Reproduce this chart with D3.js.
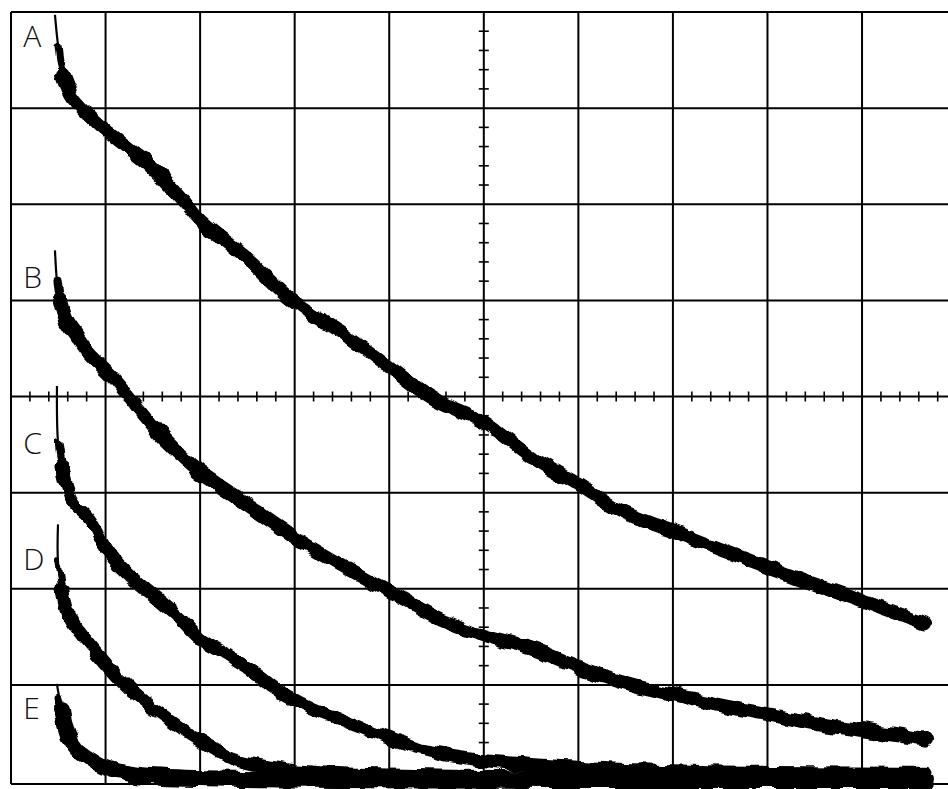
<!DOCTYPE html>
<html>
<head>
<meta charset="utf-8">
<script src="https://cdn.jsdelivr.net/npm/d3@7"></script>
<style>
  html, body { margin: 0; padding: 0; background: #fff; }
  svg { display: block; }
  .label { font-family: "Open Sans", "DejaVu Sans", sans-serif; font-weight: 300; font-size: 30px; fill: #111; }
</style>
</head>
<body>
<div id="chart"></div>
<script>
/* CONSTANTS */
const width = 948, height = 789;

// trace readings, in screen divisions (x from left edge, y up from bottom graticule line)
// first point of each trace is the top of the thin trigger spike
const timeA = [0.465, 0.497, 0.550, 0.645, 0.783, 1.015, 1.470, 1.819, 1.999, 2.527, 2.982, 3.479, 4.008, 4.463, 4.992, 5.489, 5.986, 6.440, 7.001, 7.498, 7.995, 8.481, 9.010, 9.666];
const voltA = [7.97, 7.66, 7.34, 7.13, 6.97, 6.76, 6.40, 6.04, 5.83, 5.41, 4.99, 4.68, 4.30, 3.98, 3.74, 3.38, 3.09, 2.81, 2.60, 2.41, 2.23, 2.05, 1.87, 1.64];

const timeB = [0.465, 0.486, 0.518, 0.582, 0.677, 0.835, 1.047, 1.227, 1.607, 1.967, 2.178, 2.527, 3.003, 3.479, 4.008, 4.537, 4.992, 5.489, 6.017, 6.546, 7.001, 7.498, 8.027, 8.555, 9.000, 9.666];
const voltB = [5.52, 5.20, 4.99, 4.79, 4.65, 4.44, 4.23, 4.02, 3.57, 3.24, 3.09, 2.86, 2.54, 2.26, 1.97, 1.68, 1.52, 1.38, 1.17, 1.00, 0.90, 0.79, 0.69, 0.59, 0.53, 0.43];

const timeC = [0.486, 0.497, 0.539, 0.656, 0.835, 1.047, 1.290, 1.544, 1.787, 1.999, 2.284, 2.602, 2.845, 3.194, 3.553, 3.902, 4.251, 4.611, 5.140, 6.017, 7.286, 9.666];
const voltC = [4.11, 3.53, 3.27, 2.91, 2.73, 2.36, 2.11, 1.90, 1.69, 1.48, 1.31, 1.11, 0.93, 0.75, 0.62, 0.48, 0.35, 0.27, 0.20, 0.14, 0.10, 0.08];

const timeD = [0.497, 0.497, 0.539, 0.592, 0.698, 0.835, 1.015, 1.153, 1.364, 1.607, 1.861, 2.073, 2.348, 2.707, 3.194, 4.643, 9.666];
const voltD = [2.67, 2.28, 2.00, 1.76, 1.58, 1.42, 1.21, 1.06, 0.86, 0.69, 0.51, 0.38, 0.23, 0.15, 0.09, 0.05, 0.03];

const timeE = [0.486, 0.508, 0.539, 0.603, 0.698, 0.835, 0.973, 1.290, 1.999, 9.666];
const voltE = [1.01, 0.88, 0.75, 0.48, 0.33, 0.23, 0.15, 0.07, 0.03, 0.0];

const traceNames = ["A", "B", "C", "D", "E"];
const traceTimes = [timeA, timeB, timeC, timeD, timeE];
const traceVolts = [voltA, voltB, voltC, voltD, voltE];

// graticule
const xDivs = d3.range(0, 11);
const yDivs = d3.range(0, 9);
const minorStep = 0.2;

/* SCALES */
const xScale = d3.scaleLinear().domain([0, 10]).range([11, 956.6]);
const yScale = d3.scaleLinear().domain([0, 8]).range([781, 12]);

// label rows (divisions up from bottom) for the channel letters
const labelRows = [7.64, 5.13, 3.4, 2.2, 0.65];
const traceWidths = [14, 14, 13, 13, 16];

/* SVG */
const svg = d3.select("#chart")
  .append("svg")
  .attr("width", width)
  .attr("height", height)
  .attr("viewBox", `0 0 ${width} ${height}`);

svg.append("rect").attr("width", width).attr("height", height).attr("fill", "#fff");

const defs = svg.append("defs");
const rough = defs.append("filter")
  .attr("id", "rough")
  .attr("filterUnits", "userSpaceOnUse")
  .attr("x", 0).attr("y", 0).attr("width", width).attr("height", height + 10);
rough.append("feTurbulence")
  .attr("type", "fractalNoise")
  .attr("baseFrequency", 0.055)
  .attr("numOctaves", 2)
  .attr("seed", 4)
  .attr("result", "noise");
rough.append("feDisplacementMap")
  .attr("in", "SourceGraphic")
  .attr("in2", "noise")
  .attr("scale", 10)
  .attr("xChannelSelector", "R")
  .attr("yChannelSelector", "G");

// GRID
const grid = svg.append("g").attr("stroke", "#000").attr("stroke-width", 2);

grid.selectAll(".vline")
  .data(xDivs)
  .join("line")
  .attr("class", "vline")
  .attr("x1", d => xScale(d)).attr("x2", d => xScale(d))
  .attr("y1", yScale(8)).attr("y2", yScale(0) + 3);

grid.selectAll(".hline")
  .data(yDivs)
  .join("line")
  .attr("class", "hline")
  .attr("x1", xScale(0)).attr("x2", width)
  .attr("y1", d => d === 0 ? yScale(d) + 3 : yScale(d))
  .attr("y2", d => d === 0 ? yScale(d) + 3 : yScale(d));

// CENTRE AXES WITH MINOR TICKS
const hTicks = d3.range(0, 10 + 1e-9, minorStep).filter(d => Math.abs(d - Math.round(d)) > 1e-6);
const vTicks = d3.range(0, 8 + 1e-9, minorStep).filter(d => Math.abs(d - Math.round(d)) > 1e-6);

grid.selectAll(".htick")
  .data(hTicks)
  .join("line")
  .attr("class", "htick")
  .attr("stroke-width", 1.6)
  .attr("x1", d => xScale(d)).attr("x2", d => xScale(d))
  .attr("y1", yScale(4) - 5).attr("y2", yScale(4) + 5);

grid.selectAll(".vtick")
  .data(vTicks)
  .join("line")
  .attr("class", "vtick")
  .attr("stroke-width", 1.6)
  .attr("x1", xScale(5) - 5).attr("x2", xScale(5) + 5)
  .attr("y1", d => yScale(d)).attr("y2", d => yScale(d));

// LABELS
svg.selectAll(".label")
  .data(traceNames)
  .join("text")
  .attr("class", "label")
  .attr("x", xScale(0.13))
  .attr("y", (d, i) => yScale(labelRows[i]))
  .text(d => d);

// TRACES
const line = d3.line()
  .x(d => xScale(d[0]))
  .y(d => yScale(d[1]))
  .curve(d3.curveCatmullRom.alpha(0.5));

const traces = traceNames.map((name, i) => ({
  name,
  w: traceWidths[i],
  pts: traceTimes[i].map((t, j) => [t, traceVolts[i][j]])
}));

// thin trigger spikes
svg.append("g")
  .selectAll("path")
  .data(traces)
  .join("path")
  .attr("d", d => line(d.pts.slice(0, 3)))
  .attr("fill", "none")
  .attr("stroke", "#000")
  .attr("stroke-width", 2.2);

const thick = svg.append("g").attr("filter", "url(#rough)");

thick.selectAll(".taper")
  .data(traces)
  .join("path")
  .attr("class", "taper")
  .attr("d", d => line(d.pts.slice(1, 5)))
  .attr("fill", "none")
  .attr("stroke", "#000")
  .attr("stroke-width", 7)
  .attr("stroke-linecap", "round");

thick.selectAll(".trace")
  .data(traces)
  .join("path")
  .attr("class", "trace")
  .attr("d", d => line(d.pts.slice(2)))
  .attr("fill", "none")
  .attr("stroke", "#000")
  .attr("stroke-width", d => d.w)
  .attr("stroke-linejoin", "round")
  .attr("stroke-linecap", "round");
</script>
</body>
</html>
